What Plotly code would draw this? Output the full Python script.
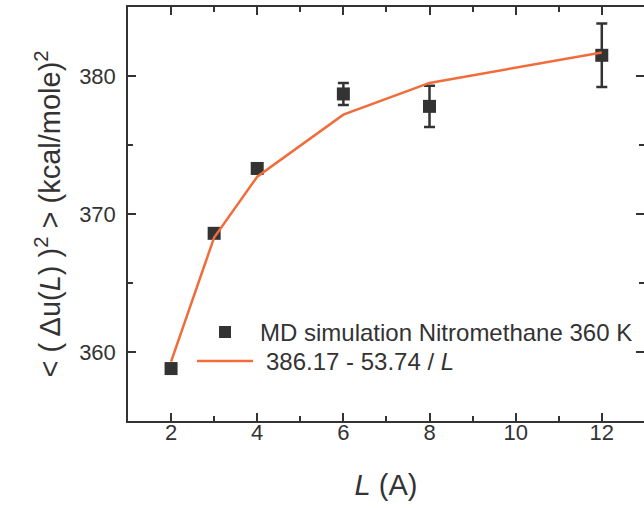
import plotly.graph_objects as go

# Data
L = [2, 3, 4, 6, 8, 12]
du2 = [358.8, 368.6, 373.3, 378.7, 377.8, 381.5]
err = [0.25, 0.3, 0.35, 0.8, 1.5, 2.3]
fit = [359.3, 368.3, 372.7, 377.2, 379.5, 381.7]

x_ticks = [2, 4, 6, 8, 10, 12]
y_ticks = [360, 370, 380]

legend_md = "MD simulation Nitromethane 360 K"
legend_fit = "386.17 - 53.74 / <i>L</i>"

FONT = "Liberation Sans, Arial, sans-serif"
DARK = "#333333"
ORANGE = "#F26B3A"

W, H = 644, 508
ML, MR, MT, MB = 128, 0, 7, 87
PW, PH = W - ML - MR, H - MT - MB

def px(x):
    return (x - ML) / PW

def py(y):
    return (H - MB - y) / PH

fig = go.Figure()
fig.add_trace(go.Scatter(
    x=L, y=du2, mode="markers",
    marker=dict(symbol="square", size=13, color=DARK),
    error_y=dict(type="data", array=err, visible=True, color=DARK, thickness=2.5, width=5.5),
    showlegend=False,
))
fig.add_trace(go.Scatter(
    x=L, y=fit, mode="lines",
    line=dict(color=ORANGE, width=2.5),
    showlegend=False,
))
# invisible trace for right-hand ticks
fig.add_trace(go.Scatter(x=[L[0]], y=[du2[0]], yaxis="y2", mode="markers",
                         marker=dict(opacity=0), showlegend=False, hoverinfo="skip"))

axis_common = dict(
    showgrid=False, zeroline=False,
    showline=True, linecolor=DARK, linewidth=1.5,
    ticks="inside", ticklen=8, tickwidth=1.5, tickcolor=DARK,
    tickfont=dict(family=FONT, size=22, color=DARK),
)

fig.update_layout(
    width=W, height=H,
    margin=dict(l=ML, r=MR, t=MT, b=MB),
    paper_bgcolor="white", plot_bgcolor="white",
    font=dict(family=FONT, color=DARK),
    xaxis=dict(
        range=[1, 12.98], tickvals=x_ticks, mirror="ticks",
        minor=dict(dtick=1, tick0=1, ticks="inside", ticklen=5, tickwidth=1.5, tickcolor=DARK),
        title=dict(text="<i>L</i> (A)", font=dict(family=FONT, size=29, color=DARK), standoff=31),
        ticklabelstandoff=-9,
        **axis_common,
    ),
    yaxis=dict(
        range=[355, 385], tickvals=y_ticks,
        minor=dict(dtick=5, tick0=355, ticks="inside", ticklen=5, tickwidth=1.5, tickcolor=DARK),
        title=dict(text="&lt; ( Δu(<i>L</i>) )<sup>2</sup> &gt; (kcal/mole)<sup>2</sup>",
                   font=dict(family=FONT, size=29, color=DARK), standoff=10),
        ticklabelstandoff=6,
        **axis_common,
    ),
    yaxis2=dict(
        overlaying="y", side="right", anchor="free", position=1, matches="y",
        range=[355, 385], tickvals=y_ticks, showticklabels=False,
        showgrid=False, zeroline=False, showline=False,
        ticks="inside", ticklen=8, tickwidth=1.5, tickcolor=DARK,
        minor=dict(dtick=5, tick0=355, ticks="inside", ticklen=5, tickwidth=1.5, tickcolor=DARK),
    ),
)

# manual legend
mx, my = 225, 332
fig.add_shape(type="rect", xref="paper", yref="paper",
              x0=px(mx - 6), x1=px(mx + 6), y0=py(my + 6), y1=py(my - 6),
              fillcolor=DARK, line=dict(width=0))
fig.add_shape(type="line", xref="paper", yref="paper",
              x0=px(197), x1=px(253), y0=py(361), y1=py(361),
              line=dict(color=ORANGE, width=2.5))
fig.add_annotation(text=legend_md, xref="paper", yref="paper", x=px(258), y=py(332),
                   xanchor="left", yanchor="middle", showarrow=False,
                   font=dict(family=FONT, size=24, color=DARK))
fig.add_annotation(text=legend_fit, xref="paper", yref="paper", x=px(264), y=py(361),
                   xanchor="left", yanchor="middle", showarrow=False,
                   font=dict(family=FONT, size=24, color=DARK))

fig.write_html("out.html")
